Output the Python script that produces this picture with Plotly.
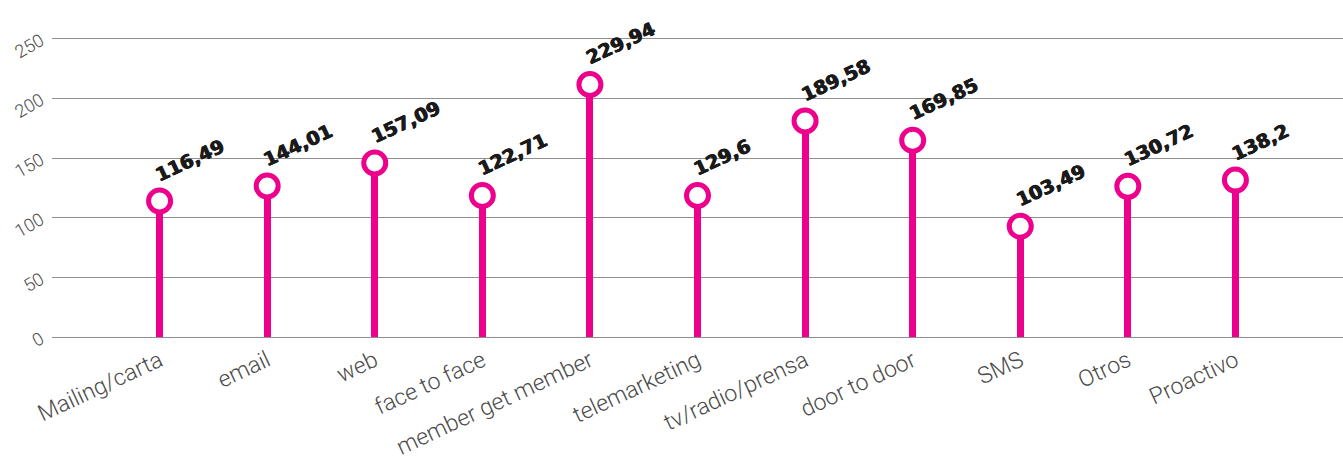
import plotly.graph_objects as go

categories = ["Mailing/carta", "email", "web", "face to face", "member get member",
              "telemarketing", "tv/radio/prensa", "door to door", "SMS", "Otros", "Proactivo"]
# heights at which the lollipop heads are drawn
values = [114.1, 126.7, 146.0, 118.7, 211.7, 118.7, 181.2, 165.0, 92.9, 126.4, 131.6]
# value labels printed above each head
label_texts = ["116,49", "144,01", "157,09", "122,71", "229,94", "129,6",
               "189,58", "169,85", "103,49", "130,72", "138,2"]
y_ticks = [0, 50, 100, 150, 200, 250]

MAGENTA = "#EC008C"

fig = go.Figure()
fig.add_trace(go.Bar(
    x=categories, y=values, width=0.065,
    marker=dict(color=MAGENTA, line=dict(width=0)),
    hoverinfo="skip", showlegend=False,
))
fig.add_trace(go.Scatter(
    x=categories, y=values, mode="markers",
    marker=dict(size=22, color="white", line=dict(color=MAGENTA, width=5)),
    cliponaxis=False, showlegend=False,
))

for c, v, t in zip(categories, values, label_texts):
    fig.add_annotation(
        x=c, y=v, text=t, showarrow=False, textangle=-25,
        xanchor="left", yanchor="bottom", xshift=-10, yshift=13,
        font=dict(family="DejaVu Sans", size=19, color="#1a1a1a", weight="bold",
                  shadow="0.7px 0 0 #1a1a1a, -0.4px 0 0 #1a1a1a"),
    )

fig.update_layout(
    width=1343, height=461,
    margin=dict(l=52, r=0, t=37, b=122),
    plot_bgcolor="white", paper_bgcolor="white",
    bargap=0,
    xaxis=dict(
        type="category", range=[-1, 11], showgrid=False, zeroline=False,
        showline=False, ticks="", tickangle=-25, ticklabelstandoff=3,
        tickfont=dict(family="Roboto", size=23, color="#4a4a4a", weight=300),
    ),
    yaxis=dict(
        range=[-1.5, 251.5], tickvals=y_ticks, showgrid=True, gridcolor="#8f8f8f",
        gridwidth=1, zeroline=False, showline=False, ticks="", tickangle=-30,
        ticklabelstandoff=10,
        tickfont=dict(family="Roboto", size=18, color="#4a4a4a", weight=300),
    ),
)

fig.write_html("out.html")
